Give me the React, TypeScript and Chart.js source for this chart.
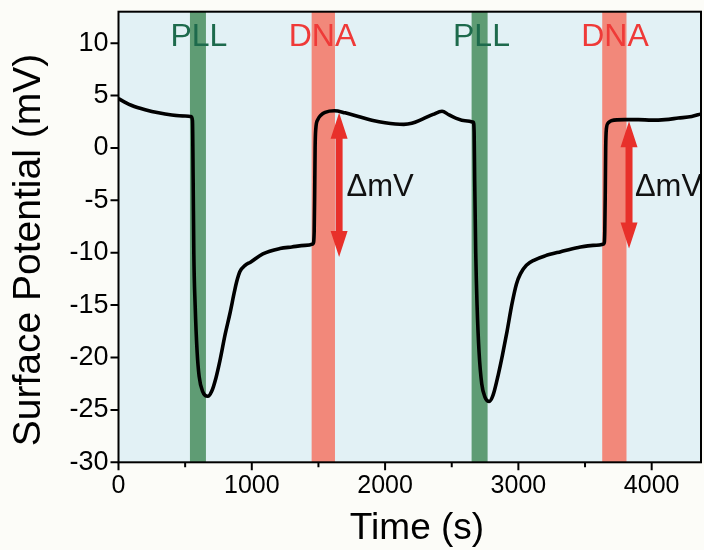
import { useEffect, useRef } from 'react';
import { Chart, registerables } from 'chart.js';

Chart.register(...registerables);

// ---- data ----
const timeS = [
  0, 50, 100, 200, 300, 400, 500, 545, 555, 560, 565, 575, 590, 605, 630, 670, 700, 730, 761, 800, 836, 870, 886, 911, 950, 990, 1083, 1211, 1300, 1400, 1460,
  1468, 1472, 1475, 1480, 1495, 1520, 1550, 1620, 1700, 1800, 1900, 2000, 2140, 2200, 2280, 2360, 2427, 2480, 2530, 2600, 2662,
  2668, 2672, 2680, 2690, 2705, 2725, 2750, 2781, 2810, 2848, 2880, 2915, 2950, 2985, 3016, 3060, 3120, 3200, 3318, 3450, 3560, 3642,
  3648, 3652, 3655, 3660, 3675, 3697, 3800, 3900, 4000, 4100, 4200, 4300, 4370,
];
const potentialMV = [
  4.7, 4.35, 4.05, 3.65, 3.35, 3.15, 3.05, 3.0, 2.6, -3, -10, -15, -19.5, -21.8, -23.2, -23.7, -23.2, -22, -20.3, -17.8, -15.8, -13.7, -12.8, -11.8, -11.2, -10.9, -10.1, -9.6, -9.45, -9.3, -9.15,
  -8, -4, 0, 1.8, 2.7, 3.15, 3.4, 3.55, 3.35, 3.0, 2.65, 2.4, 2.25, 2.35, 2.75, 3.2, 3.5, 3.15, 2.85, 2.6, 2.45,
  1.5, -3, -10, -15, -19.5, -22.5, -23.8, -24.2, -23.6, -21.7, -19.8, -17.5, -15, -13, -12, -11.2, -10.7, -10.3, -9.9, -9.5, -9.3, -9.15,
  -8, -4, 0, 1.8, 2.4, 2.6, 2.7, 2.7, 2.65, 2.7, 2.85, 3.0, 3.25,
];

const xMin = 0;
const xMax = 4370;
const yMin = -30;
const yMax = 13;
const xMajorTicks = [0, 1000, 2000, 3000, 4000];
const xMinorTicks = [500, 1500, 2500, 3500];
const yMajorTicks = [-30, -25, -20, -15, -10, -5, 0, 5, 10];

const pllBandStart = [536, 2649];
const pllBandEnd = [656, 2769];
const dnaBandStart = [1449, 3629];
const dnaBandEnd = [1624, 3811];

const pllLabelX = [603, 2723];
const dnaLabelX = [1530, 3725];
const bandLabelY = 10.6;
const pllLabelText = 'PLL';
const dnaLabelText = 'DNA';

const arrowX = [1655, 3830];
const arrowTop = [3.35, 2.55];
const arrowBottom = [-10.4, -9.6];
const deltaLabelX = [1711, 3874];
const deltaLabelY = -3.8;
const deltaLabelText = 'ΔmV';

const xTitle = 'Time (s)';
const yTitle = 'Surface Potential (mV)';

const FONT = "'Liberation Sans', Arial, Helvetica, sans-serif";

export default function App() {
  const ref = useRef<HTMLCanvasElement | null>(null);

  useEffect(() => {
    const canvas = ref.current;
    if (!canvas) return;

    const decor = {
      id: 'decor',
      beforeDraw(chart: any) {
        const { ctx, chartArea } = chart;
        ctx.save();
        ctx.fillStyle = '#fcfcf8';
        ctx.fillRect(0, 0, chart.width, chart.height);
        ctx.fillStyle = '#e2f1f5';
        ctx.fillRect(chartArea.left, chartArea.top, chartArea.right - chartArea.left, chartArea.bottom - chartArea.top);
        ctx.restore();
      },
      beforeDatasetsDraw(chart: any) {
        const { ctx, chartArea } = chart;
        const xs = chart.scales.x;
        ctx.save();
        const h = chartArea.bottom - chartArea.top;
        ctx.fillStyle = '#5f9c74';
        pllBandStart.forEach((s, i) => {
          const a = xs.getPixelForValue(s);
          const b = xs.getPixelForValue(pllBandEnd[i]);
          ctx.fillRect(a, chartArea.top, b - a, h);
        });
        ctx.fillStyle = '#f2887a';
        dnaBandStart.forEach((s, i) => {
          const a = xs.getPixelForValue(s);
          const b = xs.getPixelForValue(dnaBandEnd[i]);
          ctx.fillRect(a, chartArea.top, b - a, h);
        });
        ctx.font = `32px ${FONT}`;
        ctx.textAlign = 'center';
        ctx.textBaseline = 'middle';
        const ys = chart.scales.y;
        ctx.fillStyle = '#1d6a4c';
        pllLabelX.forEach((t) => ctx.fillText(pllLabelText, xs.getPixelForValue(t), ys.getPixelForValue(bandLabelY)));
        ctx.fillStyle = '#ef3a38';
        dnaLabelX.forEach((t) => ctx.fillText(dnaLabelText, xs.getPixelForValue(t), ys.getPixelForValue(bandLabelY)));
        ctx.restore();
      },
      afterDatasetsDraw(chart: any) {
        const { ctx } = chart;
        const xs = chart.scales.x;
        const ys = chart.scales.y;
        ctx.save();
        ctx.fillStyle = '#e8302a';
        const shaft = 3.5;
        const headW = 8.5;
        const headL = 26;
        arrowX.forEach((t, i) => {
          const x = xs.getPixelForValue(t);
          const y1 = ys.getPixelForValue(arrowTop[i]);
          const y2 = ys.getPixelForValue(arrowBottom[i]);
          ctx.beginPath();
          ctx.moveTo(x, y1);
          ctx.lineTo(x + headW, y1 + headL);
          ctx.lineTo(x + shaft, y1 + headL);
          ctx.lineTo(x + shaft, y2 - headL);
          ctx.lineTo(x + headW, y2 - headL);
          ctx.lineTo(x, y2);
          ctx.lineTo(x - headW, y2 - headL);
          ctx.lineTo(x - shaft, y2 - headL);
          ctx.lineTo(x - shaft, y1 + headL);
          ctx.lineTo(x - headW, y1 + headL);
          ctx.closePath();
          ctx.fill();
        });
        ctx.fillStyle = '#111';
        ctx.font = `31px ${FONT}`;
        ctx.textAlign = 'left';
        ctx.textBaseline = 'middle';
        deltaLabelX.forEach((t) => ctx.fillText(deltaLabelText, xs.getPixelForValue(t), ys.getPixelForValue(deltaLabelY)));
        ctx.restore();
      },
      afterDraw(chart: any) {
        const { ctx, chartArea } = chart;
        const xs = chart.scales.x;
        const ys = chart.scales.y;
        ctx.save();
        ctx.strokeStyle = '#000';
        ctx.lineWidth = 2;
        ctx.strokeRect(chartArea.left, chartArea.top, chartArea.right - chartArea.left, chartArea.bottom - chartArea.top);
        ctx.beginPath();
        xMajorTicks.forEach((t) => {
          const x = xs.getPixelForValue(t);
          ctx.moveTo(x, chartArea.bottom);
          ctx.lineTo(x, chartArea.bottom + 8);
        });
        xMinorTicks.forEach((t) => {
          const x = xs.getPixelForValue(t);
          ctx.moveTo(x, chartArea.bottom);
          ctx.lineTo(x, chartArea.bottom + 5);
        });
        yMajorTicks.forEach((v) => {
          const y = ys.getPixelForValue(v);
          ctx.moveTo(chartArea.left, y);
          ctx.lineTo(chartArea.left - 8, y);
        });
        ctx.stroke();
        ctx.fillStyle = '#000';
        ctx.textAlign = 'center';
        ctx.textBaseline = 'middle';
        ctx.font = `37px ${FONT}`;
        ctx.fillText(xTitle, 417, 529);
        ctx.translate(29, 250);
        ctx.rotate(-Math.PI / 2);
        ctx.font = `39px ${FONT}`;
        ctx.fillText(yTitle, 0, 0);
        ctx.restore();
      },
    };

    const chart = new Chart(canvas, {
      type: 'line',
      data: {
        datasets: [
          {
            data: timeS.map((t, i) => ({ x: t, y: potentialMV[i] })),
            borderColor: '#000',
            borderWidth: 3.6,
            pointRadius: 0,
            cubicInterpolationMode: 'monotone',
            fill: false,
          },
        ],
      },
      options: {
        responsive: false,
        animation: false,
        layout: { padding: { left: 0, right: 3, top: 11.7, bottom: 0 } },
        plugins: { legend: { display: false }, tooltip: { enabled: false } },
        scales: {
          x: {
            type: 'linear',
            min: xMin,
            max: xMax,
            grid: { display: false, drawTicks: false },
            border: { display: false },
            ticks: {
              autoSkip: false,
              maxRotation: 0,
              padding: 9,
              color: '#000',
              font: { family: FONT, size: 25 },
              callback: (v: any) => String(v),
            },
            afterBuildTicks: (s: any) => {
              s.ticks = xMajorTicks.map((v) => ({ value: v }));
            },
            afterFit: (s: any) => {
              s.height = 87.7;
              s.paddingLeft = 0;
              s.paddingRight = 0;
              s.paddingTop = 0;
              s.paddingBottom = 0;
            },
          },
          y: {
            type: 'linear',
            min: yMin,
            max: yMax,
            grid: { display: false, drawTicks: false },
            border: { display: false },
            ticks: {
              autoSkip: false,
              padding: 10,
              color: '#000',
              font: { family: FONT, size: 27 },
              callback: (v: any) => String(v),
            },
            afterBuildTicks: (s: any) => {
              s.ticks = yMajorTicks.map((v) => ({ value: v }));
            },
            afterFit: (s: any) => {
              s.width = 118.5;
              s.paddingLeft = 0;
              s.paddingRight = 0;
              s.paddingTop = 0;
              s.paddingBottom = 0;
            },
          },
        },
      },
      plugins: [decor],
    } as any);

    return () => chart.destroy();
  }, []);

  return (
    <div style={{ position: 'fixed', left: 0, top: 0, width: 704, height: 550 }}>
      <canvas ref={ref} width={704} height={550} style={{ display: 'block', width: 704, height: 550 }} />
    </div>
  );
}
